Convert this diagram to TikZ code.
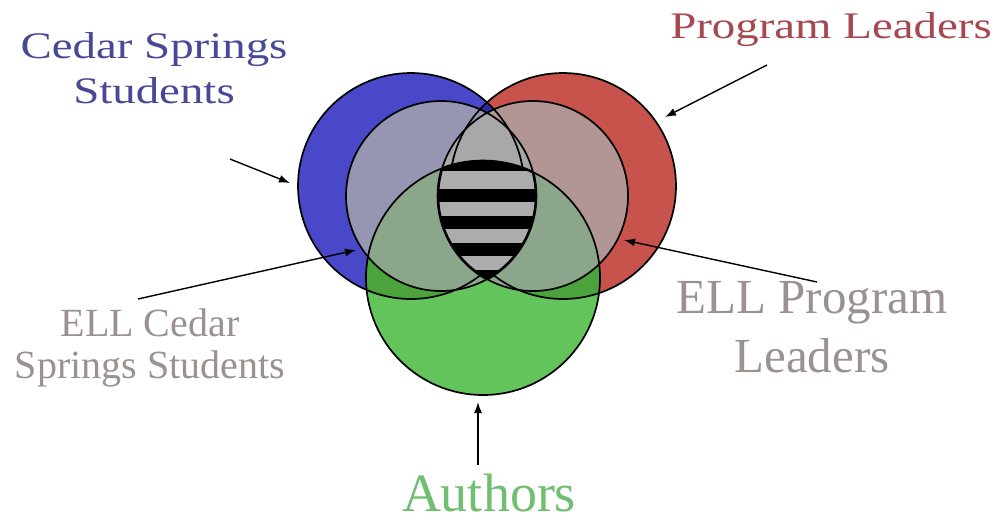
\documentclass[tikz,border=0pt]{standalone}
\usepackage{fontspec}
\setmainfont{Liberation Serif}
\newfontfamily\widefont[FakeStretch=1.25]{Liberation Serif}
\usetikzlibrary{arrows.meta}
\definecolor{bigblue}{RGB}{72,72,200}
\definecolor{bigred}{RGB}{200,82,76}
\definecolor{navyover}{RGB}{52,42,160}
\definecolor{vgreen}{RGB}{100,196,92}
\definecolor{dgreen}{RGB}{76,162,60}
\definecolor{innerblue}{RGB}{150,150,178}
\definecolor{innerred}{RGB}{178,150,150}
\definecolor{lensgray}{RGB}{168,168,168}
\definecolor{graygreen}{RGB}{140,166,140}
\definecolor{stripegray}{RGB}{172,172,172}
\definecolor{txtblue}{RGB}{72,72,150}
\definecolor{txtred}{RGB}{165,72,80}
\definecolor{txtgray}{RGB}{155,145,145}
\definecolor{txtgreen}{RGB}{112,190,112}
\tikzset{
  outline/.style={draw=black, line width=1.7pt},
  lensline/.style={draw=black, line width=2.6pt},
  arr/.style={draw=black, line width=1.4pt, -{Latex[length=11pt,width=8pt]}},
  lbl/.style={inner sep=0pt, align=center},
}
\begin{document}
\begin{tikzpicture}[x=1pt,y=-1pt]
\useasboundingbox[fill=white] (0,0) rectangle (995,523);
\def\vBigB{(411,186) circle[radius=113pt]}
\def\vBigR{(563,186) circle[radius=113pt]}
\def\vGrn{(483,278) circle[radius=117pt]}
\def\vInB{(441,196) circle[radius=95pt]}
\def\vInR{(533,196) circle[radius=95pt]}
% big circles
\fill[bigblue] \vBigB;
\fill[bigred] \vBigR;
\begin{scope}\clip \vBigB; \fill[navyover] \vBigR; \end{scope}
% green
\fill[vgreen] \vGrn;
\begin{scope}\clip \vGrn; \fill[dgreen] \vBigB; \fill[dgreen] \vBigR; \end{scope}
% inner circles
\fill[innerblue] \vInB;
\fill[innerred] \vInR;
\begin{scope}\clip \vInB; \fill[lensgray] \vInR; \end{scope}
\begin{scope}\clip \vGrn; \fill[graygreen] \vInB; \fill[graygreen] \vInR; \end{scope}
% outlines
\path[outline] \vBigB;
\path[outline] \vBigR;
\path[outline] \vGrn;
\path[outline] \vInB;
\path[outline] \vInR;
% striped centre (covers the outlines inside it)
\begin{scope}
  \clip \vGrn; \clip \vInB; \clip \vInR;
  \fill[stripegray] (420,100) rectangle (560,300);
  \foreach \s in {158,189,216,243,270} {
    \fill[black] (420,\s) rectangle (560,\s+12.5);
  }
\end{scope}
\begin{scope}\clip \vGrn; \clip \vInB; \path[lensline] \vInR; \end{scope}
\begin{scope}\clip \vGrn; \clip \vInR; \path[lensline] \vInB; \end{scope}
\begin{scope}\clip \vInB; \clip \vInR; \path[lensline] \vGrn; \end{scope}
% labels
\node[lbl, text=txtblue, font=\widefont\fontsize{37.5}{45}\selectfont] (cs) at (154,68) {Cedar Springs\\Students};
\node[lbl, text=txtred, font=\widefont\fontsize{37.5}{45}\selectfont] (pl) at (831,30) {Program Leaders};
\node[lbl, text=txtgray, font=\fontsize{40}{42}\selectfont] (ecs) at (150,348) {ELL Cedar\\Springs Students};
\node[lbl, text=txtgray, font=\fontsize{49}{59}\selectfont] (epl) at (812,327) {ELL Program\\Leaders};
\node[inner sep=0pt, anchor=base, text=txtgreen, font=\fontsize{54}{60}\selectfont] (au) at (489,511) {Authors};
% arrows
\coordinate (csFrom) at (230,159);
\coordinate (csTip) at (290,183);
\coordinate (plFrom) at (767,65);
\coordinate (plTip) at (665,117);
\coordinate (ecsFrom) at (138,299);
\coordinate (ecsTip) at (356,250);
\coordinate (eplFrom) at (817,282);
\coordinate (eplTip) at (624,240);
\coordinate (auFrom) at (478,465);
\coordinate (auTip) at (478,402);
\draw[arr] (csFrom) -- (csTip);
\draw[arr] (plFrom) -- (plTip);
\draw[arr] (ecsFrom) -- (ecsTip);
\draw[arr] (eplFrom) -- (eplTip);
\draw[arr] (auFrom) -- (auTip);
\end{tikzpicture}
\end{document}
